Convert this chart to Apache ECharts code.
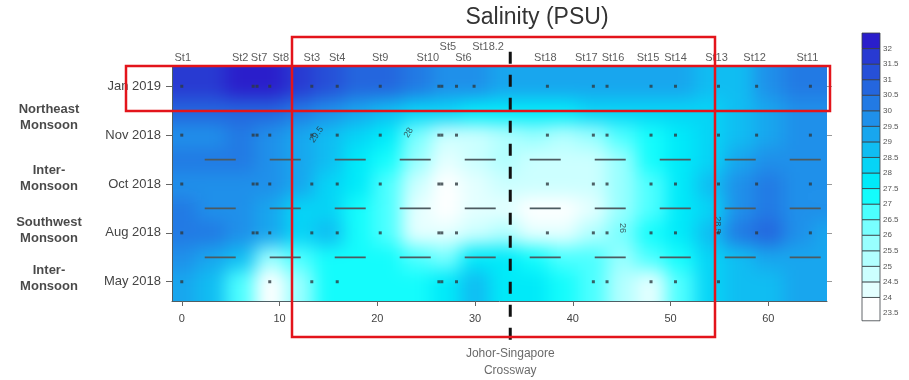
<!DOCTYPE html>
<html>
<head>
<meta charset="utf-8">
<script src="https://cdn.jsdelivr.net/npm/echarts@6/dist/echarts.min.js"></script>
<style>
  html, body { margin: 0; padding: 0; background: #ffffff; }
  #wrap { position: relative; width: 909px; height: 380px; overflow: hidden; }
  #fieldClip { position: absolute; left: 172px; top: 67px; width: 655px; height: 234px; overflow: hidden; }
  #field { position: absolute; left: -172px; top: -67px; width: 909px; height: 380px; filter: blur(9px); }
  #chart { position: absolute; left: 0; top: 0; width: 909px; height: 380px; }
</style>
</head>
<body>
<div id="wrap">
  <div id="fieldClip"><div id="field"></div></div>
  <div id="chart"></div>
</div>
<script>
// Survey months, bottom to top
const months = ['May 2018', 'Aug 2018', 'Oct 2018', 'Nov 2018', 'Jan 2019'];
// Distance ticks (km)
const xTickValues = [0, 10, 20, 30, 40, 50, 60];

// Stations and their distance along the transect (km)
const stationNames = ['St1', 'St2', 'St7', 'St8', 'St3', 'St4', 'St9', 'St10', 'St5', 'St6', 'St18.2',
                      'St18', 'St17', 'St16', 'St15', 'St14', 'St13', 'St12', 'St11'];
const stationKm = [0, 7.3, 7.7, 9.0, 13.3, 15.9, 20.3, 26.3, 26.6, 28.1, 29.9,
                   37.4, 42.1, 43.5, 48.0, 50.5, 54.9, 58.8, 64.3];

// Stations sampled in each survey
const sampledMay = ['St1', 'St8', 'St3', 'St4', 'St10', 'St5', 'St6', 'St17', 'St16', 'St15', 'St14', 'St13'];
const sampledAug = stationNames.filter(s => s !== 'St18.2');
const sampledOct = stationNames.filter(s => s !== 'St18.2');
const sampledNov = stationNames.filter(s => s !== 'St18.2');
const sampledJan = stationNames.slice();

// Gridded salinity (PSU) along the transect, one list per level (0 = May ... 4 = Jan)
const gridKm = [0, 3, 6, 9, 12, 15, 18, 21, 24, 27, 30, 33, 36, 39, 42, 45, 48, 51, 54, 57, 60, 63, 66];
const gridLevels = [0, 0.5, 1, 1.5, 2, 2.5, 3, 3.5, 4];
const salMay    = [29.2, 28.8, 26.5, 23.8, 25.6, 27.3, 27.2, 27.0, 27.1, 27.7, 28.6, 27.8, 27.5, 27.0, 26.9, 25.3, 24.3, 26.8, 28.0, 28.6, 28.8, 29.0, 29.1];
const salMayAug = [29.6, 29.3, 28.9, 25.8, 26.6, 27.4, 27.4, 27.2, 26.5, 26.2, 27.7, 27.5, 27.2, 26.6, 26.6, 25.6, 26.5, 27.3, 28.0, 28.9, 29.1, 29.3, 29.4];
const salAug    = [30.4, 30.1, 29.8, 29.3, 28.2, 28.5, 27.3, 26.8, 24.3, 24.0, 24.8, 25.0, 24.3, 24.3, 25.2, 26.3, 27.2, 27.8, 28.9, 30.2, 30.5, 29.8, 29.4];
const salAugOct = [30.0, 29.8, 29.7, 29.3, 28.4, 28.0, 27.3, 26.6, 24.3, 23.9, 24.3, 24.4, 23.9, 23.9, 24.3, 25.5, 26.8, 27.5, 28.4, 29.8, 30.1, 29.7, 29.5];
const salOct    = [29.9, 29.9, 29.8, 29.5, 29.0, 28.3, 27.5, 26.8, 24.5, 23.9, 24.4, 24.6, 24.5, 24.5, 24.7, 25.6, 26.8, 27.6, 28.6, 29.7, 30.0, 29.7, 29.5];
const salOctNov = [30.0, 30.0, 30.0, 29.8, 29.4, 28.6, 27.8, 27.0, 25.5, 24.2, 24.6, 25.0, 24.6, 24.5, 24.8, 25.8, 27.0, 27.6, 28.4, 29.4, 29.7, 29.6, 29.6];
const salNov    = [29.6, 29.8, 30.0, 29.8, 29.4, 28.7, 28.1, 27.5, 26.2, 24.6, 24.7, 25.3, 25.5, 25.4, 25.8, 26.7, 27.3, 27.6, 28.2, 28.7, 29.2, 29.5, 29.6];
const salNovJan = [30.6, 30.6, 30.8, 30.5, 30.0, 29.6, 29.1, 28.7, 28.3, 28.0, 27.9, 27.8, 27.7, 27.8, 28.0, 28.2, 28.3, 28.3, 28.4, 28.8, 29.4, 29.6, 29.8];
const salJan    = [31.6, 31.9, 32.2, 32.1, 31.6, 31.1, 30.9, 30.6, 30.3, 29.9, 29.6, 29.4, 29.3, 29.3, 29.3, 29.2, 29.3, 29.1, 28.7, 28.8, 29.6, 30.1, 30.3];

// Colour classes (PSU)
const salinityBreaks = [24, 24.5, 25, 25.5, 26, 26.5, 27, 27.5, 28, 28.5, 29, 29.5, 30, 30.5, 31, 31.5, 32];
const salinityColors = ['#ffffff', '#e4ffff', '#ccffff', '#b2ffff', '#98ffff', '#78ffff', '#4cffff', '#14fcfc',
                        '#00eaf9', '#06d4f6', '#10bdf2', '#18a6ee', '#1f90ea', '#227ae4', '#2466de', '#2650d8',
                        '#283ad2', '#2a1ecb'];

// Contour labels
const contourText  = ['29.5', '28', '26', '28.5'];
const contourKm    = [13.8, 23.2, 45.1, 54.8];
const contourLevel = [3.01, 3.05, 1.10, 1.16];
const contourAngle = [55, 60, -90, -90];

// Johor-Singapore Crossway position (km)
const crosswayKm = 33.6;
const crosswayName = 'Johor-Singapore\nCrossway';

// Monsoon periods and the survey rows they cover
const periodNames = ['Inter-\nMonsoon', 'Southwest\nMonsoon', 'Inter-\nMonsoon', 'Northeast\nMonsoon'];
const periodRows = [[0], [1], [2], [3, 4]];

// ---------- layout ----------
const FONT = "'Liberation Sans', Arial, sans-serif";
const X_MIN = -1, X_MAX = 66;
const Y_MIN = -0.394, Y_MAX = 4.394;
const PLOT = { left: 172, top: 67, width: 655, height: 234 };

function colorFor(v) {
  let k = 0;
  while (k < salinityBreaks.length && v >= salinityBreaks[k]) k++;
  return salinityColors[k];
}

// ---------- filled salinity field ----------
const levelRows = [salMay, salMayAug, salAug, salAugOct, salOct, salOctNov, salNov, salNovJan, salJan];
const cells = [];
levelRows.forEach((row, j) => {
  const y0 = j === 0 ? gridLevels[0] - 1.5 : (gridLevels[j - 1] + gridLevels[j]) / 2;
  const y1 = j === gridLevels.length - 1 ? gridLevels[j] + 1.5 : (gridLevels[j] + gridLevels[j + 1]) / 2;
  row.forEach((v, i) => {
    const x0 = i === 0 ? gridKm[0] - 8 : (gridKm[i - 1] + gridKm[i]) / 2;
    const x1 = i === gridKm.length - 1 ? gridKm[i] + 8 : (gridKm[i] + gridKm[i + 1]) / 2;
    cells.push([x0, x1, y0, y1, v]);
  });
});

const field = echarts.init(document.getElementById('field'), null, { renderer: 'canvas' });
field.setOption({
  animation: false,
  grid: PLOT,
  xAxis: { type: 'value', min: X_MIN, max: X_MAX, show: false },
  yAxis: { type: 'value', min: Y_MIN, max: Y_MAX, show: false },
  series: [{
    type: 'custom',
    coordinateSystem: 'cartesian2d',
    clip: false,
    silent: true,
    data: cells,
    renderItem: function (params, api) {
      const p0 = api.coord([api.value(0), api.value(2)]);
      const p1 = api.coord([api.value(1), api.value(3)]);
      return {
        type: 'rect',
        shape: {
          x: Math.min(p0[0], p1[0]), y: Math.min(p0[1], p1[1]),
          width: Math.abs(p1[0] - p0[0]) + 0.6, height: Math.abs(p1[1] - p0[1]) + 0.6
        },
        style: { fill: colorFor(api.value(4)) }
      };
    }
  }]
});

// ---------- axes, stations and annotations ----------
const sampledByRow = [sampledMay, sampledAug, sampledOct, sampledNov, sampledJan];
const stationDots = [];
sampledByRow.forEach((list, row) => {
  list.forEach(name => stationDots.push([stationKm[stationNames.indexOf(name)], row]));
});

const labelNudge = { 'St1': 1, 'St2': -13, 'St7': 2, 'St8': 11, 'St10': -11, 'St5': 6, 'St6': 7,
                     'St18.2': 14, 'St18': -2, 'St17': -7, 'St16': 6, 'St15': -3, 'St13': -2, 'St12': -2, 'St11': -3 };
const raised = { 'St5': true, 'St18.2': true };
const stationLabels = stationNames.map((n, i) => ({
  value: [stationKm[i], Y_MAX],
  name: n,
  label: { offset: [labelNudge[n] || 0, raised[n] ? -11 : 0] }
}));

const breaks = periodRows.slice(0, -1).map(rows => Math.max.apply(null, rows) + 0.5);
const dashSeries = breaks.map(y => ({
  type: 'line', silent: true, clip: false, symbol: 'none',
  data: [[-10.95, y], [X_MAX, y]],
  lineStyle: { color: '#4c5a60', width: 1.7, type: [31, 34] },
  z: 3
}));

const periodNudge = [-3, -2, -6, 7];
const periodLabels = periodNames.map((n, p) => ({
  value: [X_MIN, periodRows[p].reduce((a, b) => a + b, 0) / periodRows[p].length],
  name: n,
  label: { offset: [-123, periodNudge[p]] }
}));

const contourLabels = contourText.map((t, i) => ({
  value: [contourKm[i], contourLevel[i]], name: t, label: { rotate: contourAngle[i] }
}));

const colorPieces = salinityColors.map((c, k) => [
  k === 0 ? 23.25 : salinityBreaks[k - 1],
  k === salinityColors.length - 1 ? 32.5 : salinityBreaks[k],
  k
]);

const chart = echarts.init(document.getElementById('chart'), null, { renderer: 'canvas' });
chart.setOption({
  animation: false,
  backgroundColor: 'transparent',
  textStyle: { fontFamily: FONT },
  grid: [
    PLOT,
    { left: 862, top: 33, width: 18, height: 280 }
  ],
  xAxis: [
    {
      type: 'value', min: X_MIN, max: X_MAX, gridIndex: 0,
      axisLine: { show: true, onZero: false, lineStyle: { color: '#4f5e64', width: 1 } },
      axisTick: { show: true, customValues: xTickValues, length: 5, lineStyle: { color: '#666' } },
      axisLabel: { customValues: xTickValues, fontSize: 11, color: '#444', margin: 12, fontFamily: FONT },
      splitLine: { show: false }
    },
    { type: 'value', min: 0, max: 1, gridIndex: 1, show: false }
  ],
  yAxis: [
    {
      type: 'value', min: Y_MIN, max: Y_MAX, gridIndex: 0,
      axisLine: { show: true, onZero: false, lineStyle: { color: '#4f5e64', width: 1 } },
      axisTick: { show: true, customValues: [0, 1, 2, 3, 4], length: 6, lineStyle: { color: '#666' } },
      axisLabel: {
        customValues: [0, 1, 2, 3, 4], formatter: v => months[Math.round(v)],
        fontSize: 13, color: '#444', margin: 11, fontFamily: FONT
      },
      splitLine: { show: false }
    },
    {
      type: 'value', min: Y_MIN, max: Y_MAX, gridIndex: 0, position: 'right',
      axisLine: { show: false, onZero: false },
      axisTick: { show: true, customValues: [0, 1, 2, 3, 4], length: 5, lineStyle: { color: '#999' } },
      axisLabel: { show: false },
      splitLine: { show: false }
    },
    {
      type: 'value', min: 23.5, max: 32.5, interval: 0.5, gridIndex: 1, position: 'right',
      axisLine: { show: false }, axisTick: { show: false }, splitLine: { show: false },
      axisLabel: {
        formatter: v => (v > 32.01 ? '' : String(v)),
        fontSize: 8, color: '#555', margin: 3, fontFamily: FONT
      }
    }
  ],
  series: [
    ...dashSeries,
    {
      // sampling stations
      type: 'scatter', silent: true, xAxisIndex: 0, yAxisIndex: 0,
      symbol: 'rect', symbolSize: 3,
      itemStyle: { color: '#2e3a40' },
      data: stationDots, z: 4
    },
    {
      // station names above the plot
      type: 'scatter', silent: true, clip: false, symbolSize: 0,
      data: stationLabels,
      label: {
        show: true, position: 'top', distance: 4, formatter: p => p.name,
        fontSize: 11, color: '#333', fontFamily: FONT
      }
    },
    {
      // contour labels
      type: 'scatter', silent: true, symbolSize: 0,
      data: contourLabels,
      label: { show: true, position: 'inside', formatter: p => p.name, fontSize: 9, color: '#2a3438', fontFamily: FONT },
      z: 5
    },
    {
      // monsoon period labels
      type: 'scatter', silent: true, clip: false, symbolSize: 0,
      data: periodLabels,
      label: {
        show: true, position: 'inside', formatter: p => p.name, align: 'center',
        fontSize: 13, fontWeight: 'bold', color: '#1a1a1a', lineHeight: 16, fontFamily: FONT
      }
    },
    {
      // causeway marker
      type: 'line', silent: true, clip: false, symbol: 'none',
      data: [[crosswayKm, Y_MAX + 0.31], [crosswayKm, Y_MIN - 0.88]],
      lineStyle: { color: '#111', width: 3, type: [12, 11] },
      z: 6
    },
    {
      type: 'scatter', silent: true, clip: false, symbolSize: 0,
      data: [{ value: [crosswayKm, Y_MIN - 0.88], name: crosswayName }],
      label: {
        show: true, position: 'bottom', distance: 1, formatter: p => p.name, align: 'center',
        fontSize: 12, color: '#444', lineHeight: 17, fontFamily: FONT
      }
    },
    {
      // colour bar
      type: 'custom', silent: true, xAxisIndex: 1, yAxisIndex: 2, clip: false,
      data: colorPieces,
      renderItem: function (params, api) {
        const p0 = api.coord([0, api.value(0)]);
        const p1 = api.coord([1, api.value(1)]);
        return {
          type: 'rect',
          shape: { x: p0[0], y: p1[1], width: p1[0] - p0[0], height: p0[1] - p1[1] },
          style: { fill: salinityColors[api.value(2)], stroke: '#3a3f44', lineWidth: 0.8 }
        };
      }
    }
  ],
  graphic: [
    {
      type: 'text', x: 537, y: 18,
      style: { text: 'Salinity (PSU)', font: '23px ' + FONT, fill: '#333', textAlign: 'center', textVerticalAlign: 'middle' }
    },
    {
      type: 'rect', shape: { x: 292, y: 37, width: 423, height: 300 },
      style: { fill: 'none', stroke: '#e3141b', lineWidth: 2.5 }, z: 100
    },
    {
      type: 'rect', shape: { x: 126, y: 66, width: 704, height: 45 },
      style: { fill: 'none', stroke: '#e3141b', lineWidth: 2.5 }, z: 100
    }
  ]
});
</script>
</body>
</html>
